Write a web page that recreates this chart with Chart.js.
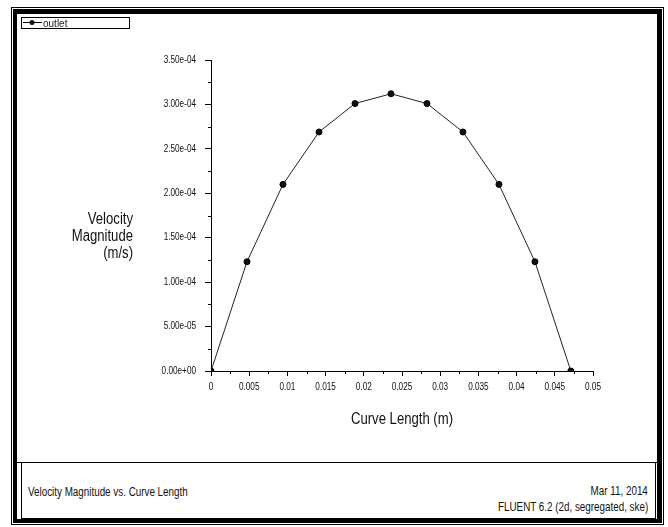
<!DOCTYPE html>
<html>
<head>
<meta charset="utf-8">
<script src="https://cdn.jsdelivr.net/npm/chart.js@4/dist/chart.umd.min.js"></script>
<style>
  html, body { margin: 0; padding: 0; background: #fff; }
  body { width: 668px; height: 527px; position: relative; overflow: hidden;
         font-family: 'Liberation Sans', Arial, sans-serif; }
  #outer { position: absolute; left: 11px; top: 7px; width: 653px; height: 518px; border: 1px solid #000; box-sizing: border-box; }
  #thick { position: absolute; left: 13px; top: 9px; width: 649px; height: 514px; border: 4px solid #000; border-top-width: 5px; border-right-width: 5px; box-sizing: border-box; }
  #sep { position: absolute; left: 16px; top: 462px; width: 641px; height: 0; border-top: 1px solid #000; }
  #foot { position: absolute; left: 21px; top: 462px; width: 635px; height: 57px; border: 1px solid #000; border-top: none; box-sizing: border-box; }
  .ft { position: absolute; font-size: 12px; color: #111; white-space: nowrap; line-height: 14px; }
  .fl { transform: scaleX(0.82); transform-origin: left center; }
  .fr { transform: scaleX(0.82); transform-origin: right center; text-align: right; }
  #cv { position: absolute; left: 0; top: 0; }
</style>
</head>
<body>
<div id="outer"></div>
<div id="thick"></div>
<div id="sep"></div>
<div id="foot"></div>
<div class="ft fl" style="left:28px; top:485px;">Velocity Magnitude vs. Curve Length</div>
<div class="ft fr" style="right:20px; top:484px;">Mar 11, 2014</div>
<div class="ft fr" style="right:20px; top:500px;">FLUENT 6.2 (2d, segregated, ske)</div>
<canvas id="cv" width="668" height="527"></canvas>
<script>
// ---- data ----
const curveLength = [0, 0.00471, 0.00942, 0.01414, 0.01885, 0.02356, 0.02827, 0.03298, 0.03769, 0.0424, 0.0471];
const velocity = [0, 1.23e-4, 2.10e-4, 2.69e-4, 3.01e-4, 3.12e-4, 3.01e-4, 2.69e-4, 2.10e-4, 1.23e-4, 0];
const xTickValues = [0, 0.005, 0.01, 0.015, 0.02, 0.025, 0.03, 0.035, 0.04, 0.045, 0.05];
const xTickLabels = ['0', '0.005', '0.01', '0.015', '0.02', '0.025', '0.03', '0.035', '0.04', '0.045', '0.05'];
const yTickValues = [0, 5e-5, 1e-4, 1.5e-4, 2e-4, 2.5e-4, 3e-4, 3.5e-4];
const yTickLabels = ['0.00e+00', '5.00e-05', '1.00e-04', '1.50e-04', '2.00e-04', '2.50e-04', '3.00e-04', '3.50e-04'];
const seriesName = 'outlet';
const yTitleLines = ['Velocity', 'Magnitude', '(m/s)'];
const xTitle = 'Curve Length (m)';

const FONT = "'Liberation Sans', Arial, sans-serif";
const SX = 0.82; // narrow-font emulation
Chart.defaults.font.family = FONT;
Chart.defaults.color = '#111';

const extras = {
  id: 'extras',
  beforeDraw(chart) {
    const ctx = chart.ctx;
    const orig = CanvasRenderingContext2D.prototype.fillText;
    ctx.fillText = function (t, x, y) {
      this.save();
      this.translate(x, y);
      this.scale(SX, 1);
      orig.call(this, t, 0, 0);
      this.restore();
    };
  },
  afterDraw(chart) {
    const ctx = chart.ctx;
    const xs = chart.scales.x, ys = chart.scales.y;
    const a = chart.chartArea;
    ctx.save();
    ctx.strokeStyle = '#000';
    ctx.lineWidth = 1;
    // minor ticks
    ctx.beginPath();
    for (let i = 0; i < yTickValues.length - 1; i++) {
      const v = (yTickValues[i] + yTickValues[i + 1]) / 2;
      const py = Math.round(ys.getPixelForValue(v)) + 0.5;
      ctx.moveTo(a.left - 3, py); ctx.lineTo(a.left, py);
    }
    for (let i = 0; i < xTickValues.length - 1; i++) {
      const v = (xTickValues[i] + xTickValues[i + 1]) / 2;
      const px = Math.round(xs.getPixelForValue(v)) + 0.5;
      ctx.moveTo(px, a.bottom); ctx.lineTo(px, a.bottom + 3);
    }
    ctx.stroke();
    // y title (horizontal, right aligned)
    ctx.fillStyle = '#111';
    ctx.font = '16px ' + FONT;
    ctx.textAlign = 'right';
    ctx.textBaseline = 'middle';
    yTitleLines.forEach((t, i) => ctx.fillText(t, a.left - 78, 220 + i * 17));
    ctx.restore();
    delete ctx.fillText;
    // legend box
    ctx.save();
    const ds = chart.data.datasets[0];
    ctx.strokeStyle = '#000';
    ctx.lineWidth = 1;
    ctx.strokeRect(21.5, 17.5, 108, 11);
    ctx.beginPath();
    ctx.moveTo(23, 22.5); ctx.lineTo(42, 22.5);
    ctx.stroke();
    ctx.beginPath();
    ctx.arc(32, 22.5, 2.5, 0, Math.PI * 2);
    ctx.fillStyle = '#111';
    ctx.fill();
    ctx.font = '10px ' + FONT;
    ctx.textAlign = 'left';
    ctx.textBaseline = 'alphabetic';
    ctx.fillStyle = '#222';
    ctx.fillText(ds.label, 43, 27);
    ctx.restore();
  }
};

new Chart(document.getElementById('cv'), {
  type: 'scatter',
  data: {
    datasets: [{
      label: seriesName,
      data: curveLength.map((x, i) => ({ x: x, y: velocity[i] })),
      showLine: true,
      borderColor: '#222',
      borderWidth: 1,
      pointRadius: 3,
      pointBackgroundColor: '#111',
      pointBorderColor: '#000',
      pointBorderWidth: 1,
      tension: 0
    }]
  },
  options: {
    responsive: false,
    animation: false,
    events: [],
    layout: { padding: { left: 0, top: 60, right: 75, bottom: 94 } },
    plugins: { legend: { display: false }, tooltip: { enabled: false } },
    scales: {
      x: {
        type: 'linear', min: 0, max: 0.05,
        afterBuildTicks: s => { s.ticks = xTickValues.map(v => ({ value: v })); },
        afterFit: s => { s.height = 62; },
        ticks: {
          font: { size: 10 }, color: '#111', padding: 5, maxRotation: 0, autoSkip: false,
          callback: (v, i) => xTickLabels[i]
        },
        grid: { drawOnChartArea: false, drawTicks: true, tickLength: 5, tickColor: '#000' },
        border: { display: true, color: '#000', width: 1 },
        title: { display: true, text: xTitle, font: { size: 16 }, color: '#111', padding: 4 }
      },
      y: {
        type: 'linear', min: 0, max: 3.5e-4,
        afterBuildTicks: s => { s.ticks = yTickValues.map(v => ({ value: v })); },
        afterFit: s => { s.width = 211; },
        ticks: {
          font: { size: 10 }, color: '#111', padding: 9, autoSkip: false,
          callback: (v, i) => yTickLabels[i]
        },
        grid: { drawOnChartArea: false, drawTicks: true, tickLength: 6, tickColor: '#000' },
        border: { display: true, color: '#000', width: 1 }
      }
    }
  },
  plugins: [extras]
});
</script>
</body>
</html>
